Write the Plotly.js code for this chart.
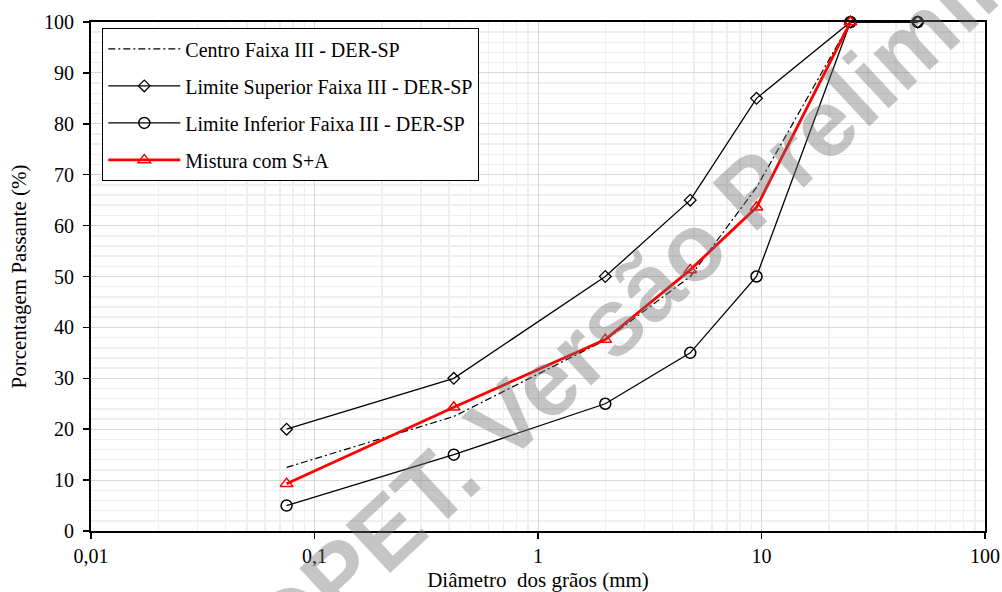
<!DOCTYPE html>
<html>
<head>
<meta charset="utf-8">
<script src="https://cdn.plot.ly/plotly-3.0.1.min.js"></script>
<style>html,body{margin:0;padding:0;background:#fff;}#chart{width:1002px;height:592px;}</style>
</head>
<body>
<div id="chart"></div>
<script>
// Sieve sizes (mm)
const diametros = [0.075, 0.42, 2.0, 4.8, 9.5, 25.0, 50.0];
const diametrosMistura = [0.075, 0.42, 2.0, 4.8, 9.5, 25.0];
// Passing (%)
const centro = [12.5, 22.5, 37.5, 50, 67.5, 100, 100];
const limiteSuperior = [20, 30, 50, 65, 85, 100, 100];
const limiteInferior = [5, 15, 25, 35, 50, 100, 100];
const mistura = [9.3, 24.3, 37.6, 51.3, 63.6, 100];

const xTickVals = [0.01, 0.1, 1, 10, 100];
const xTickText = ['0,01', '0,1', '1', '10', '100'];

const minorX = [];
[0.01, 0.1, 1, 10].forEach(d => { for (let k = 2; k <= 9; k++) minorX.push(d * k); });

const serif = 'Liberation Serif';

const traces = [
  {x: diametros, y: centro, name: 'Centro Faixa III - DER-SP', mode: 'lines',
   line: {color: '#000', width: 1.2, dash: '7px,3px,2px,3px'}, legendgroup: 'a', cliponaxis: false},
  {x: diametros, y: limiteSuperior, name: 'Limite Superior Faixa III - DER-SP', mode: 'lines+markers',
   line: {color: '#000', width: 1.3}, marker: {symbol: 'diamond-open', size: 9, color: '#000', line: {width: 1.3}},
   legendgroup: 'b', cliponaxis: false},
  {x: diametros, y: limiteInferior, name: 'Limite Inferior Faixa III - DER-SP', mode: 'lines+markers',
   line: {color: '#000', width: 1.3}, marker: {symbol: 'circle-open', size: 11, color: '#000', line: {width: 1.5}},
   legendgroup: 'c', cliponaxis: false},
  {x: diametrosMistura, y: mistura, name: 'Mistura com S+A', mode: 'lines+markers',
   line: {color: '#ff0000', width: 2.8}, marker: {symbol: 'triangle-up-open', size: 11, color: '#ff0000', line: {width: 1.5}},
   legendgroup: 'd', cliponaxis: false}
];

const layout = {
  width: 1002, height: 592,
  margin: {l: 91, r: 17, t: 22, b: 61},
  paper_bgcolor: '#fff', plot_bgcolor: '#fff',
  font: {family: serif, size: 20, color: '#000'},
  showlegend: true,
  legend: {
    x: 0.0123, y: 0.988, xanchor: 'left', yanchor: 'top',
    bgcolor: '#fff', bordercolor: '#000', borderwidth: 1.3,
    font: {family: serif, size: 20, color: '#000'},
    tracegroupgap: 8, itemwidth: 72
  },
  xaxis: {
    type: 'log', range: [-2, 2],
    tickmode: 'array', tickvals: xTickVals, ticktext: xTickText,
    ticks: 'outside', ticklen: 6, tickwidth: 1.5, tickcolor: '#000',
    showline: true, linecolor: '#000', linewidth: 2, mirror: true,
    showgrid: true, gridcolor: '#d9d9d9', gridwidth: 1,
    minor: {tickmode: 'array', tickvals: minorX, showgrid: true, gridcolor: '#efefef', gridwidth: 1.5, ticks: ''},
    zeroline: false, ticklabelstandoff: 0,
    tickfont: {family: serif, size: 20},
    title: {text: 'Diâmetro  dos grãos (mm)', font: {family: serif, size: 21}, standoff: 12}
  },
  yaxis: {
    range: [0, 100], dtick: 10, tick0: 0,
    ticks: 'outside', ticklen: 6, tickwidth: 1.5, tickcolor: '#000',
    showline: true, linecolor: '#000', linewidth: 2, mirror: true,
    showgrid: true, gridcolor: '#d9d9d9', gridwidth: 1,
    minor: {dtick: 2, showgrid: true, gridcolor: '#efefef', gridwidth: 1.5, ticks: ''},
    zeroline: false, ticklabelstandoff: 5,
    tickfont: {family: serif, size: 20},
    title: {text: 'Porcentagem Passante (%)', font: {family: serif, size: 21}, standoff: 12}
  },
  annotations: [{
    text: '<b>DPET. Versão Preliminar</b>', xref: 'paper', yref: 'paper',
    x: 0.645, y: 0.515, xanchor: 'center', yanchor: 'middle',
    showarrow: false, textangle: -43,
    font: {family: 'Liberation Sans', size: 95, color: 'rgba(110,110,110,0.40)'}
  }]
};

Plotly.newPlot('chart', traces, layout, {displayModeBar: false, staticPlot: true});
</script>
</body>
</html>
